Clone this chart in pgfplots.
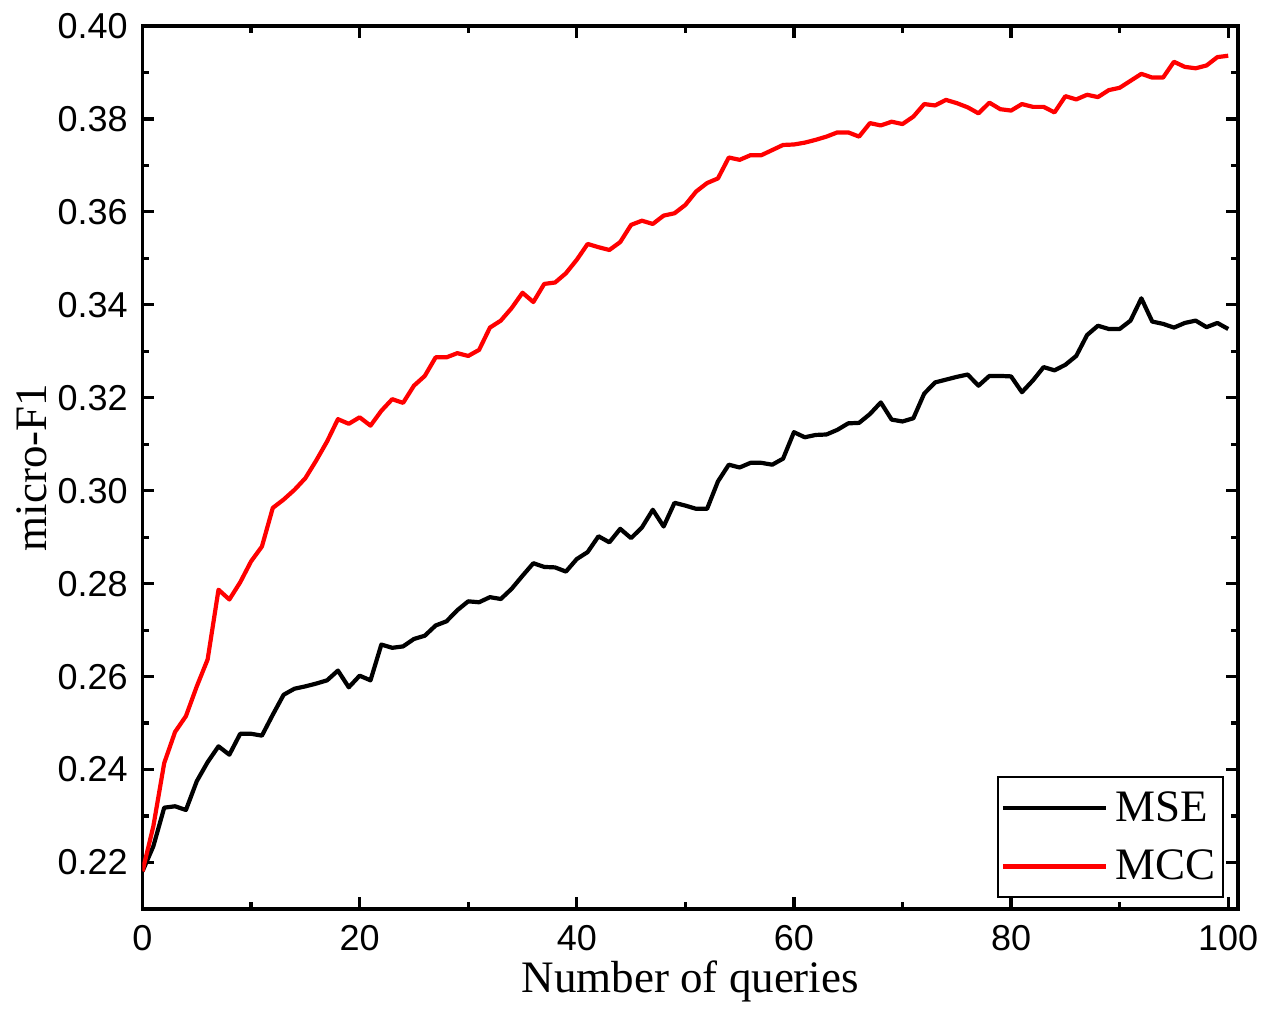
\documentclass[border=0pt]{standalone}
\usepackage{pgfplots}
\pgfplotsset{compat=1.18}
\usepackage{pgfplotstable}
\usepackage{fontspec}
\setmainfont{Liberation Serif}
\newfontfamily\tickfont{Liberation Sans}
\usetikzlibrary{calc}

\pgfplotstableread{
x y
0 0.2181
1 0.2235
2 0.2318
3 0.2321
4 0.2313
5 0.2375
6 0.2416
7 0.2450
8 0.2432
9 0.2477
10 0.2477
11 0.2473
12 0.2518
13 0.2561
14 0.2574
15 0.2579
16 0.2585
17 0.2592
18 0.2613
19 0.2577
20 0.2602
21 0.2592
22 0.2669
23 0.2662
24 0.2665
25 0.2681
26 0.2688
27 0.2710
28 0.2719
29 0.2743
30 0.2762
31 0.2760
32 0.2771
33 0.2767
34 0.2789
35 0.2817
36 0.2844
37 0.2836
38 0.2835
39 0.2826
40 0.2853
41 0.2868
42 0.2902
43 0.2889
44 0.2918
45 0.2898
46 0.2921
47 0.2959
48 0.2923
49 0.2974
50 0.2968
51 0.2961
52 0.2961
53 0.3020
54 0.3056
55 0.3050
56 0.3060
57 0.3060
58 0.3056
59 0.3069
60 0.3126
61 0.3115
62 0.3120
63 0.3121
64 0.3131
65 0.3145
66 0.3146
67 0.3165
68 0.3190
69 0.3153
70 0.3149
71 0.3156
72 0.3209
73 0.3233
74 0.3239
75 0.3245
76 0.3250
77 0.3226
78 0.3247
79 0.3247
80 0.3246
81 0.3212
82 0.3237
83 0.3266
84 0.3259
85 0.3271
86 0.3290
87 0.3335
88 0.3355
89 0.3348
90 0.3348
91 0.3366
92 0.3414
93 0.3364
94 0.3359
95 0.3351
96 0.3361
97 0.3366
98 0.3352
99 0.3361
100 0.3348
}\mse

\pgfplotstableread{
x y
0 0.2181
1 0.2278
2 0.2414
3 0.2481
4 0.2515
5 0.2579
6 0.2637
7 0.2787
8 0.2766
9 0.2803
10 0.2848
11 0.2880
12 0.2963
13 0.2981
14 0.3002
15 0.3027
16 0.3065
17 0.3106
18 0.3154
19 0.3144
20 0.3158
21 0.3140
22 0.3172
23 0.3197
24 0.3189
25 0.3226
26 0.3247
27 0.3287
28 0.3287
29 0.3296
30 0.3290
31 0.3303
32 0.3351
33 0.3366
34 0.3393
35 0.3426
36 0.3406
37 0.3445
38 0.3448
39 0.3468
40 0.3497
41 0.3531
42 0.3524
43 0.3518
44 0.3535
45 0.3572
46 0.3581
47 0.3574
48 0.3592
49 0.3597
50 0.3615
51 0.3644
52 0.3662
53 0.3672
54 0.3717
55 0.3712
56 0.3722
57 0.3722
58 0.3733
59 0.3744
60 0.3745
61 0.3749
62 0.3755
63 0.3762
64 0.3771
65 0.3771
66 0.3762
67 0.3791
68 0.3786
69 0.3794
70 0.3789
71 0.3805
72 0.3832
73 0.3829
74 0.3841
75 0.3834
76 0.3825
77 0.3812
78 0.3835
79 0.3821
80 0.3818
81 0.3832
82 0.3826
83 0.3826
84 0.3814
85 0.3849
86 0.3842
87 0.3852
88 0.3847
89 0.3862
90 0.3867
91 0.3882
92 0.3897
93 0.3889
94 0.3889
95 0.3923
96 0.3912
97 0.3909
98 0.3915
99 0.3933
100 0.3936
}\mcc

\begin{document}
\begin{tikzpicture}
\begin{axis}[
  scale only axis,
  width=547.75pt, height=441.5pt,
  xmin=0, xmax=100.9, ymin=0.21, ymax=0.40,
  xtick={0,20,40,60,80,100},
  minor xtick={10,30,50,70,90},
  ytick={0.22,0.24,0.26,0.28,0.30,0.32,0.34,0.36,0.38,0.40},
  minor ytick={0.23,0.25,0.27,0.29,0.31,0.33,0.35,0.37,0.39},
  tick align=inside,
  major tick length=6pt, minor tick length=3.5pt,
  tick style={black, line width=1.6pt},
  axis line style={line width=1.8pt},
  /pgf/number format/assume math mode=true,
  tick label style={font=\tickfont\fontsize{18}{18}\selectfont, inner sep=0pt},
  xticklabel style={yshift=-8pt},
  yticklabel style={xshift=-7.25pt, /pgf/number format/.cd, fixed, fixed zerofill, precision=2},
  scaled y ticks=false,
  xlabel={Number of queries},
  ylabel={micro-F1},
  label style={font=\fontsize{22.5}{24}\selectfont, inner sep=0pt},
  xlabel style={at={($(axis description cs:0.5,0)+(0,-42pt)$)}, anchor=base},
  ylabel style={at={($(axis description cs:0,0.5)+(-47.75pt,0)$)}, anchor=base, rotate=0},
  legend cell align=left,
  legend style={at={(1,0)}, anchor=south east, xshift=-7pt, yshift=5.5pt,
    draw=black, line width=1pt, font=\fontsize{22.5}{24}\selectfont,
    inner xsep=1.5pt, inner ysep=5pt, row sep=9pt},
  legend image code/.code={\draw[#1] (0pt,0pt) -- (51.5pt,0pt); \path (53.5pt,0pt);},
]
\addplot[black, line width=2.1pt, line join=round] table[x=x, y=y] {\mse};
\addlegendentry{MSE}
\addplot[red, line width=2.1pt, line join=round] table[x=x, y=y] {\mcc};
\addlegendentry{MCC}
\coordinate (bl) at (rel axis cs:0,0);
\coordinate (tr) at (rel axis cs:1,1);
\end{axis}
\pgfresetboundingbox
\path[use as bounding box] ($(bl)+(-71.25pt,-50pt)$) rectangle ($(tr)+(13.5pt,13pt)$);
\end{tikzpicture}
\end{document}
